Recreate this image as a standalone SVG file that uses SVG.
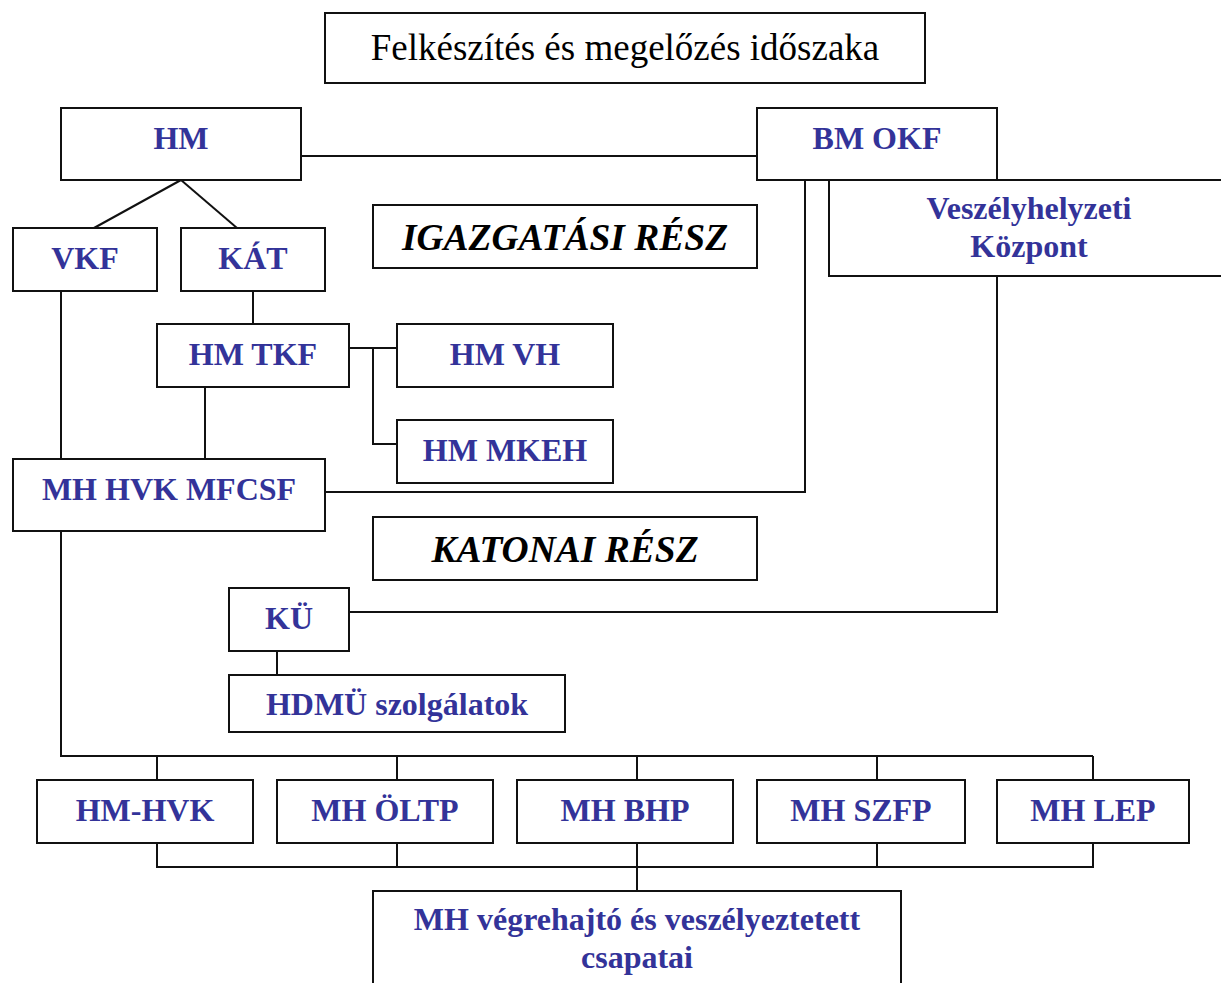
<svg xmlns="http://www.w3.org/2000/svg" width="1221" height="983" viewBox="0 0 1221 983">
<style>
rect{fill:#fff;stroke:#111;stroke-width:2}
.c line,.c polyline{stroke:#111;stroke-width:2;fill:none}
text{font-family:"Liberation Serif",serif;text-anchor:middle}
.n{font-size:32px;font-weight:700;fill:#333399}
.t{font-size:37px;fill:#000}
.s{font-size:37.5px;font-weight:700;font-style:italic;fill:#000}
</style>
<rect x="0" y="0" width="1221" height="983" style="stroke:none"/>
<g class="c" id="connectors">
<line x1="301" y1="156" x2="757" y2="156"/>
<line x1="181" y1="180" x2="94" y2="228"/>
<line x1="181" y1="180" x2="237" y2="228"/>
<line x1="61" y1="291" x2="61" y2="469"/>
<line x1="253" y1="291" x2="253" y2="324"/>
<line x1="205" y1="387" x2="205" y2="459"/>
<line x1="349" y1="348" x2="397" y2="348"/>
<polyline points="373,348 373,444 397,444"/>
<polyline points="805,180 805,492 325,492"/>
<polyline points="997,276 997,612 349,612"/>
<line x1="277" y1="651" x2="277" y2="675"/>
<polyline points="61,531 61,756 1093,756"/>
<line x1="157" y1="756" x2="157" y2="780"/>
<line x1="397" y1="756" x2="397" y2="780"/>
<line x1="637" y1="756" x2="637" y2="780"/>
<line x1="877" y1="756" x2="877" y2="780"/>
<line x1="1093" y1="756" x2="1093" y2="780"/>
<polyline points="157,843 157,867 1093,867 1093,843"/>
<line x1="397" y1="843" x2="397" y2="867"/>
<line x1="637" y1="843" x2="637" y2="891"/>
<line x1="877" y1="843" x2="877" y2="867"/>
</g>
<g id="title"><rect x="325" y="13" width="600" height="70"/><text class="t" x="625" y="60">Felkészítés és megelőzés időszaka</text></g>
<g id="hm"><rect x="61" y="108" width="240" height="72"/><text class="n" x="181" y="149">HM</text></g>
<g id="bmokf"><rect x="757" y="108" width="240" height="72"/><text class="n" x="877" y="149">BM OKF</text></g>
<g id="vk"><rect x="829" y="180" width="400" height="96"/><text class="n" x="1029" y="219">Veszélyhelyzeti</text><text class="n" x="1029" y="257">Központ</text></g>
<g id="vkf"><rect x="13" y="228" width="144" height="63"/><text class="n" x="85" y="269">VKF</text></g>
<g id="kat"><rect x="181" y="228" width="144" height="63"/><text class="n" x="253" y="269">KÁT</text></g>
<g id="igazg"><rect x="373" y="205" width="384" height="63"/><text class="s" x="565" y="250">IGAZGATÁSI RÉSZ</text></g>
<g id="hmtkf"><rect x="157" y="324" width="192" height="63"/><text class="n" x="253" y="365">HM TKF</text></g>
<g id="hmvh"><rect x="397" y="324" width="216" height="63"/><text class="n" x="505" y="365">HM VH</text></g>
<g id="hmmkeh"><rect x="397" y="420" width="216" height="63"/><text class="n" x="505" y="461">HM MKEH</text></g>
<g id="mfcsf"><rect x="13" y="459" width="312" height="72"/><text class="n" x="169" y="500">MH HVK MFCSF</text></g>
<g id="katonai"><rect x="373" y="517" width="384" height="63"/><text class="s" x="565" y="562">KATONAI RÉSZ</text></g>
<g id="ku"><rect x="229" y="588" width="120" height="63"/><text class="n" x="289" y="629">KÜ</text></g>
<g id="hdmu"><rect x="229" y="675" width="336" height="57"/><text class="n" x="397" y="715">HDMÜ szolgálatok</text></g>
<g id="hmhvk"><rect x="37" y="780" width="216" height="63"/><text class="n" x="145" y="821">HM-HVK</text></g>
<g id="oltp"><rect x="277" y="780" width="216" height="63"/><text class="n" x="385" y="821">MH ÖLTP</text></g>
<g id="bhp"><rect x="517" y="780" width="216" height="63"/><text class="n" x="625" y="821">MH BHP</text></g>
<g id="szfp"><rect x="757" y="780" width="208" height="63"/><text class="n" x="861" y="821">MH SZFP</text></g>
<g id="lep"><rect x="997" y="780" width="192" height="63"/><text class="n" x="1093" y="821">MH LEP</text></g>
<g id="csapatai"><rect x="373" y="891" width="528" height="100"/><text class="n" x="637" y="930">MH végrehajtó és veszélyeztetett</text><text class="n" x="637" y="968">csapatai</text></g>
</svg>
